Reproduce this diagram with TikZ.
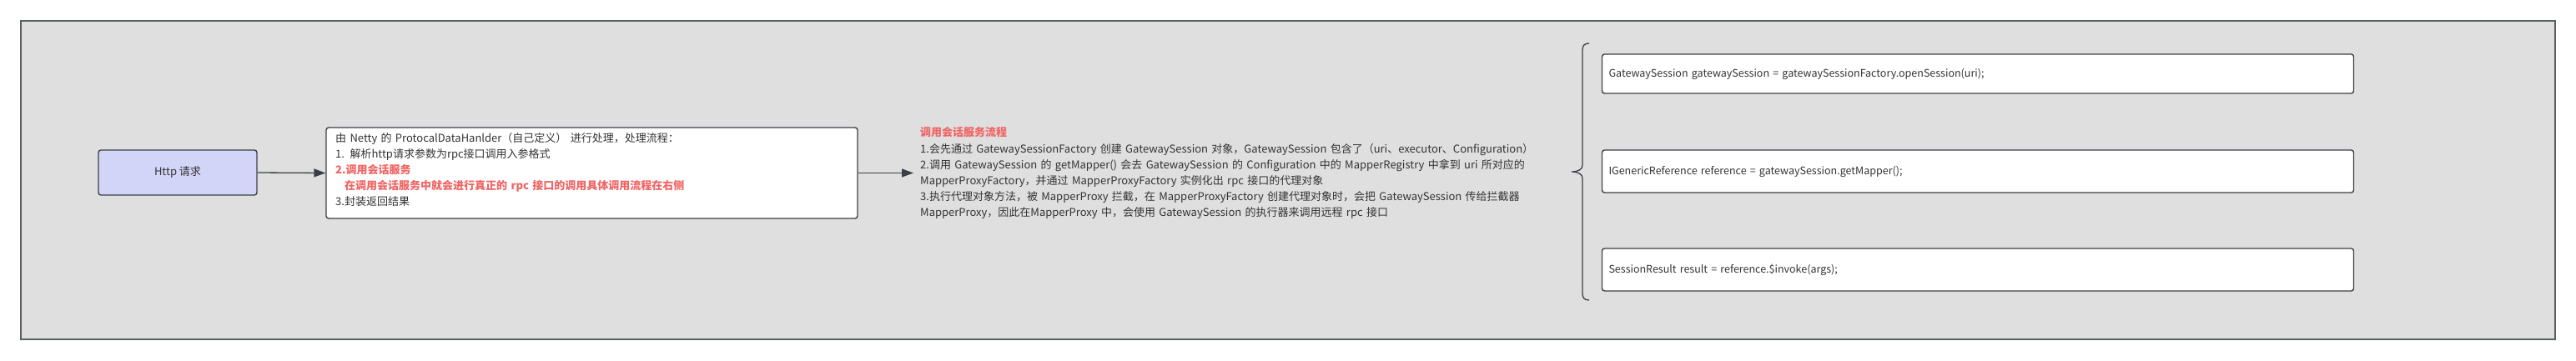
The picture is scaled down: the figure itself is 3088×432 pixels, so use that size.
\documentclass[tikz,border=0pt]{standalone}
\usepackage{fontspec}
\setmainfont{Noto Sans CJK SC}
\usetikzlibrary{arrows.meta}
\definecolor{framebg}{HTML}{DFDFDF}
\definecolor{framecol}{HTML}{5A5F64}
\definecolor{boxline}{HTML}{3C4046}
\definecolor{httpfill}{HTML}{D2D5F7}
\definecolor{txt}{HTML}{333333}
\definecolor{redtxt}{HTML}{F06464}
\begin{document}
\begin{tikzpicture}[x=1pt,y=-1pt,
  frame/.style={draw=framecol, fill=framebg, line width=2pt, minimum width=3038pt, minimum height=382pt, inner sep=0pt},
  httpbox/.style={draw=boxline, fill=httpfill, rounded corners=3pt, line width=1.4pt, minimum width=190pt, minimum height=54pt, inner sep=0pt, text=txt, font=\fontsize{13}{16}\selectfont},
  whitebox/.style={draw=boxline, fill=white, rounded corners=3pt, line width=1.4pt, inner sep=0pt},
  codebox/.style={whitebox, minimum width=901pt, text width=885pt, align=left, inner xsep=8pt, text=txt, font=\fontsize{12.5}{15}\selectfont},
  para/.style={inner sep=0pt, align=left, text=txt, anchor=north west},
  conn/.style={-{Triangle[length=14pt,width=10pt]}, line width=1.3pt, draw=boxline},
  bracestyle/.style={draw=boxline, line width=1.3pt}
]
\useasboundingbox (0,0) rectangle (3088,432);
\node[frame] (frame) at (1544,216) {};
\node[httpbox] (http) at (213,207) {Http 请求};
\node[whitebox, minimum width=637pt, minimum height=109pt] (proc) at (709.5,207.5) {};
\node[para, text width=620pt, font=\fontsize{13}{19}\selectfont] (proctxt) at (402,159.5) {%
由 Netty 的 ProtocalDataHanlder（自己定义） 进行处理，处理流程：\\
1. 解析http请求参数为rpc接口调用入参格式\\
{\color{redtxt}\bfseries 2.调用会话服务}\\
{\color{redtxt}\bfseries \hspace*{11pt}在调用会话服务中就会进行真正的 rpc 接口的调用具体调用流程在右侧}\\
3.封装返回结果};
\coordinate (flowin) at (1095,207.5);
\node[para, text width=760pt, font=\fontsize{13}{19.2}\selectfont] (flow) at (1103,152.5) {%
{\color{redtxt}\bfseries 调用会话服务流程}\\
1.会先通过 GatewaySessionFactory 创建 GatewaySession 对象，GatewaySession 包含了（uri、executor、Configuration）\\
2.调用 GatewaySession 的 getMapper() 会去 GatewaySession 的 Configuration 中的 MapperRegistry 中拿到 uri 所对应的\\
MapperProxyFactory，并通过 MapperProxyFactory 实例化出 rpc 接口的代理对象\\
3.执行代理对象方法，被 MapperProxy 拦截，在 MapperProxyFactory 创建代理对象时，会把 GatewaySession 传给拦截器\\
MapperProxy，因此在MapperProxy 中，会使用 GatewaySession 的执行器来调用远程 rpc 接口};
\draw[conn] (http.east) -- (proc.west);
\draw[conn] (proc.east) -- (flowin);
\draw[bracestyle] (1905,52) .. controls (1899,52) and (1897,55) .. (1897,60) -- (1897,198)
  .. controls (1897,203) and (1892,206) .. (1884,206)
  .. controls (1892,206) and (1897,209) .. (1897,214) -- (1897,352)
  .. controls (1897,357) and (1899,360) .. (1905,360);
\node[codebox, minimum height=47pt] (c1) at (2371,88.5) {GatewaySession gatewaySession = gatewaySessionFactory.openSession(uri);};
\node[codebox, minimum height=51pt] (c2) at (2371,205.5) {IGenericReference reference = gatewaySession.getMapper();};
\node[codebox, minimum height=51pt] (c3) at (2371,323.5) {SessionResult result = reference.\$invoke(args);};
\end{tikzpicture}
\end{document}
